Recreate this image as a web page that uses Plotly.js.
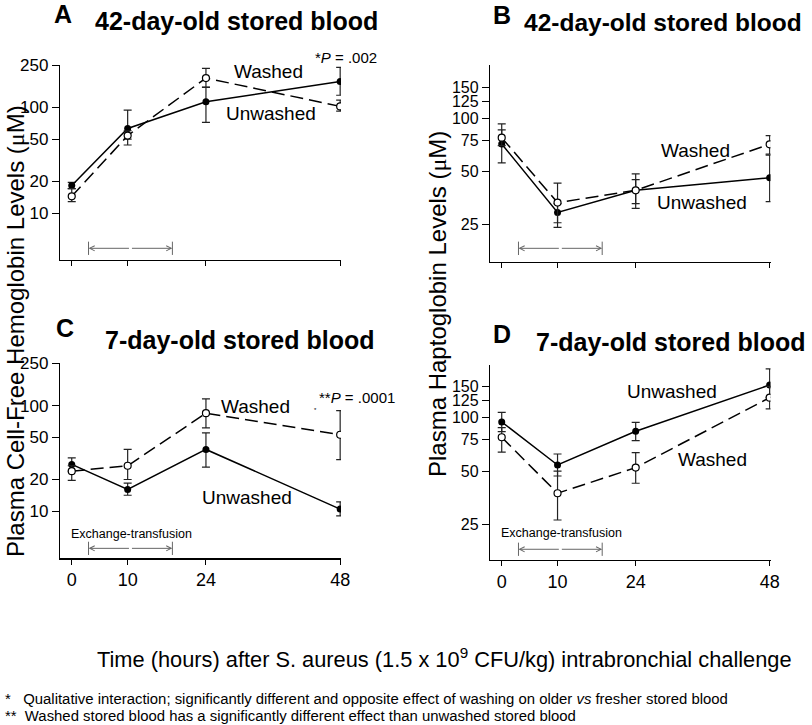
<!DOCTYPE html>
<html>
<head>
<meta charset="utf-8">
<script src="https://cdn.plot.ly/plotly-3.0.1.min.js"></script>
<style>
  html, body { margin: 0; padding: 0; background: #fff; }
  #chart { width: 812px; height: 725px; }
</style>
</head>
<body>
<div id="chart"></div>
<script>
// hours after challenge
const hours = [0, 10, 24, 48];
const hourTicks = ['0', '10', '24', '48'];

// A: cell-free hemoglobin, 42-day-old stored blood (uM)
const unwashedA   = [18.2, 63, 113, 175];
const unwashedAHi = [19.5, 94, 154, 239];
const unwashedALo = [17, 50, 72, 130];
const washedA     = [14.4, 54, 189, 102];
const washedAHi   = [17, 60, 233, 117];
const washedALo   = [12.8, 44, 155, 92];

// B: haptoglobin, 42-day-old stored blood (uM)
const unwashedB   = [71.6, 29.4, 39.2, 46.2];
const unwashedBHi = [86, 33, 45, 62];
const unwashedBLo = [56, 24.2, 31, 33.8];
const washedB     = [77.7, 33.4, 39.2, 71.3];
const washedBHi   = [93, 43, 48.5, 79.8];
const washedBLo   = [70, 25.7, 33, 62.8];

// C: cell-free hemoglobin, 7-day-old stored blood (uM)
const unwashedC   = [27.8, 16.1, 38.5, 10.5];
const unwashedCHi = [32, 18.5, 55.3, 12.3];
const unwashedCLo = [24, 14.2, 26.2, 9.06];
const washedC     = [24, 27, 84.8, 53];
const washedCHi   = [27, 38.5, 115.7, 89.7];
const washedCLo   = [19.6, 20, 61.6, 30.8];

// D: haptoglobin, 7-day-old stored blood (uM)
const unwashedD   = [94.6, 54.2, 83.8, 152.6];
const unwashedDHi = [107, 62.5, 94.2, 188];
const unwashedDLo = [83.4, 47, 74.3, 130];
const washedD     = [77.6, 37.6, 52.4, 129.5];
const washedDHi   = [88, 50, 63.6, 150];
const washedDLo   = [64, 26.6, 42.8, 112];

// exchange-transfusion period (hours)
const exchange = [3, 18];

const hbTicks = [10, 20, 50, 100, 250];
const hpTicks = [25, 50, 75, 100, 125, 150];

const FONT = 'Liberation Sans, Arial, sans-serif';
const W = 812, H = 725;
const px = v => v / W;
const py = v => 1 - v / H;

function errs(v, hi, lo) {
  return {
    type: 'data', symmetric: false,
    array: hi.map((h, i) => h - v[i]),
    arrayminus: lo.map((l, i) => v[i] - l),
    color: '#222', thickness: 1.2, width: 4
  };
}

function pair(xa, ya, unw, unwHi, unwLo, wsh, wshHi, wshLo) {
  return [
    {
      x: hours, y: unw, xaxis: xa, yaxis: ya, type: 'scatter', mode: 'lines+markers',
      line: { color: '#000', width: 1.5 },
      marker: { color: '#000', size: 7 },
      error_y: errs(unw, unwHi, unwLo)
    },
    {
      x: hours, y: wsh, xaxis: xa, yaxis: ya, type: 'scatter', mode: 'lines+markers',
      line: { color: '#000', width: 1.5, dash: '13px,6px' },
      marker: { color: '#fff', size: 7, line: { color: '#000', width: 1.2 } },
      error_y: errs(wsh, wshHi, wshLo)
    }
  ];
}

const data = [].concat(
  pair('x', 'y', unwashedA, unwashedAHi, unwashedALo, washedA, washedAHi, washedALo),
  pair('x2', 'y2', unwashedB, unwashedBHi, unwashedBLo, washedB, washedBHi, washedBLo),
  pair('x3', 'y3', unwashedC, unwashedCHi, unwashedCLo, washedC, washedCHi, washedCLo),
  pair('x4', 'y4', unwashedD, unwashedDHi, unwashedDLo, washedD, washedDHi, washedDLo)
);

function xAxis(domain, anchor, labels) {
  return {
    domain: domain, anchor: anchor, range: [-2.1, 48.15],
    showline: true, linecolor: '#000', linewidth: 1.2,
    ticks: 'outside', ticklen: 5, tickcolor: '#000', tickwidth: 1,
    tickmode: 'array', tickvals: hours, ticktext: hourTicks,
    showticklabels: labels, showgrid: false, zeroline: false,
    tickfont: { family: FONT, size: 18, color: '#000' }
  };
}

function yAxis(domain, anchor, range, ticks, size) {
  return {
    domain: domain, anchor: anchor, type: 'log', range: range,
    showline: true, linecolor: '#000', linewidth: 1.2,
    ticks: 'outside', ticklen: 7, tickcolor: '#000', tickwidth: 1,
    tickmode: 'array', tickvals: ticks, ticktext: ticks.map(String),
    showgrid: false, zeroline: false, ticklabelstandoff: 0,
    tickfont: { family: FONT, size: size, color: '#000' }
  };
}

const leftX = [px(60), px(341)];
const rightX = [px(490), px(770.5)];

function txt(x, y, text, size, extra) {
  return Object.assign({
    xref: 'paper', yref: 'paper', x: px(x), y: py(y), text: text, showarrow: false,
    xanchor: 'center', yanchor: 'middle',
    font: { family: FONT, size: size, color: '#000' }
  }, extra || {});
}

const bold = s => '<b>' + s + '</b>';
const mu = '<span style="font-family:Liberation Serif">μ</span>';

const annotations = [
  txt(63, 14, bold('A'), 25),
  txt(236.7, 21, bold('42-day-old stored blood'), 25),
  txt(501.7, 15, bold('B'), 25),
  txt(663, 22, bold('42-day-old stored blood'), 24.5),
  txt(65, 328, bold('C'), 25),
  txt(239, 340, bold('7-day-old stored blood'), 25),
  txt(501.7, 334, bold('D'), 25),
  txt(670, 342, bold('7-day-old stored blood'), 25),

  txt(268.3, 71, 'Washed', 19),
  txt(270.5, 113.3, 'Unwashed', 19),
  txt(313.3, 57.3, '*<i>P</i> = .002', 15, { xanchor: 'left' }),
  txt(695, 150.7, 'Washed', 19),
  txt(701.7, 202.7, 'Unwashed', 19),
  txt(255.5, 406.7, 'Washed', 19),
  txt(246.7, 497.7, 'Unwashed', 19),
  txt(316.7, 397.3, '**<i>P</i> = .0001', 15, { xanchor: 'left' }),
  txt(315, 410, '*', 6),
  txt(672, 391, 'Unwashed', 19),
  txt(712.5, 459.3, 'Washed', 19),
  txt(131.7, 534, 'Exchange-transfusion', 12.5),
  txt(561.7, 532.7, 'Exchange-transfusion', 12.5),

  txt(15, 331, 'Plasma Cell-Free Hemoglobin Levels (' + mu + 'M)', 24, { textangle: -90 }),
  txt(437, 304, 'Plasma Haptoglobin Levels (' + mu + 'M)', 24, { textangle: -90 }),
  txt(444, 658, 'Time (hours) after S. aureus (1.5 x 10<sup>9</sup> CFU/kg) intrabronchial challenge', 21.8),
  txt(3, 699, '*   Qualitative interaction; significantly different and opposite effect of washing on older <i>vs</i> fresher stored blood', 14.9, { xanchor: 'left' }),
  txt(3, 716, '**  Washed stored blood has a significantly different effect than unwashed stored blood', 14.9, { xanchor: 'left' })
];

// exchange-transfusion arrows |<---->|
const shapes = [];
const arrowSpec = [['x', 'y', 0.06], ['x2', 'y2', 0.068], ['x3', 'y3', 0.051], ['x4', 'y4', 0.055]];
const mid = (exchange[0] + exchange[1]) / 2;
arrowSpec.forEach(function (a) {
  exchange.forEach(function (e) {
    shapes.push({
      type: 'line', xref: a[0], yref: a[1] + ' domain',
      x0: e, x1: e, y0: a[2] - 0.034, y1: a[2] + 0.034,
      line: { color: '#666', width: 1 }
    });
    annotations.push({
      xref: a[0], yref: a[1] + ' domain', x: e, y: a[2],
      axref: a[0], ayref: 'pixel', ax: mid, ay: 0,
      showarrow: true, arrowhead: 5, arrowsize: 1, arrowwidth: 1, arrowcolor: '#666',
      text: ''
    });
  });
});

const layout = {
  width: W, height: H,
  margin: { l: 0, r: 0, t: 0, b: 0 },
  paper_bgcolor: '#fff', plot_bgcolor: 'rgba(0,0,0,0)',
  showlegend: false,
  font: { family: FONT, color: '#000' },
  xaxis: xAxis(leftX, 'y', false),
  yaxis: yAxis([py(260), py(65)], 'x', [0.556, 2.40], hbTicks, 17),
  xaxis2: xAxis(rightX, 'y2', false),
  yaxis2: yAxis([py(261.7), py(65)], 'x2', [1.19, 2.301], hpTicks, 16),
  xaxis3: xAxis(leftX, 'y3', true),
  yaxis3: yAxis([py(558.3), py(363.3)], 'x3', [0.556, 2.40], hbTicks, 17),
  xaxis4: xAxis(rightX, 'y4', true),
  yaxis4: yAxis([py(560), py(365)], 'x4', [1.2, 2.296], hpTicks, 16),
  annotations: annotations,
  shapes: shapes
};

Plotly.newPlot('chart', data, layout, { staticPlot: true });
</script>
</body>
</html>
